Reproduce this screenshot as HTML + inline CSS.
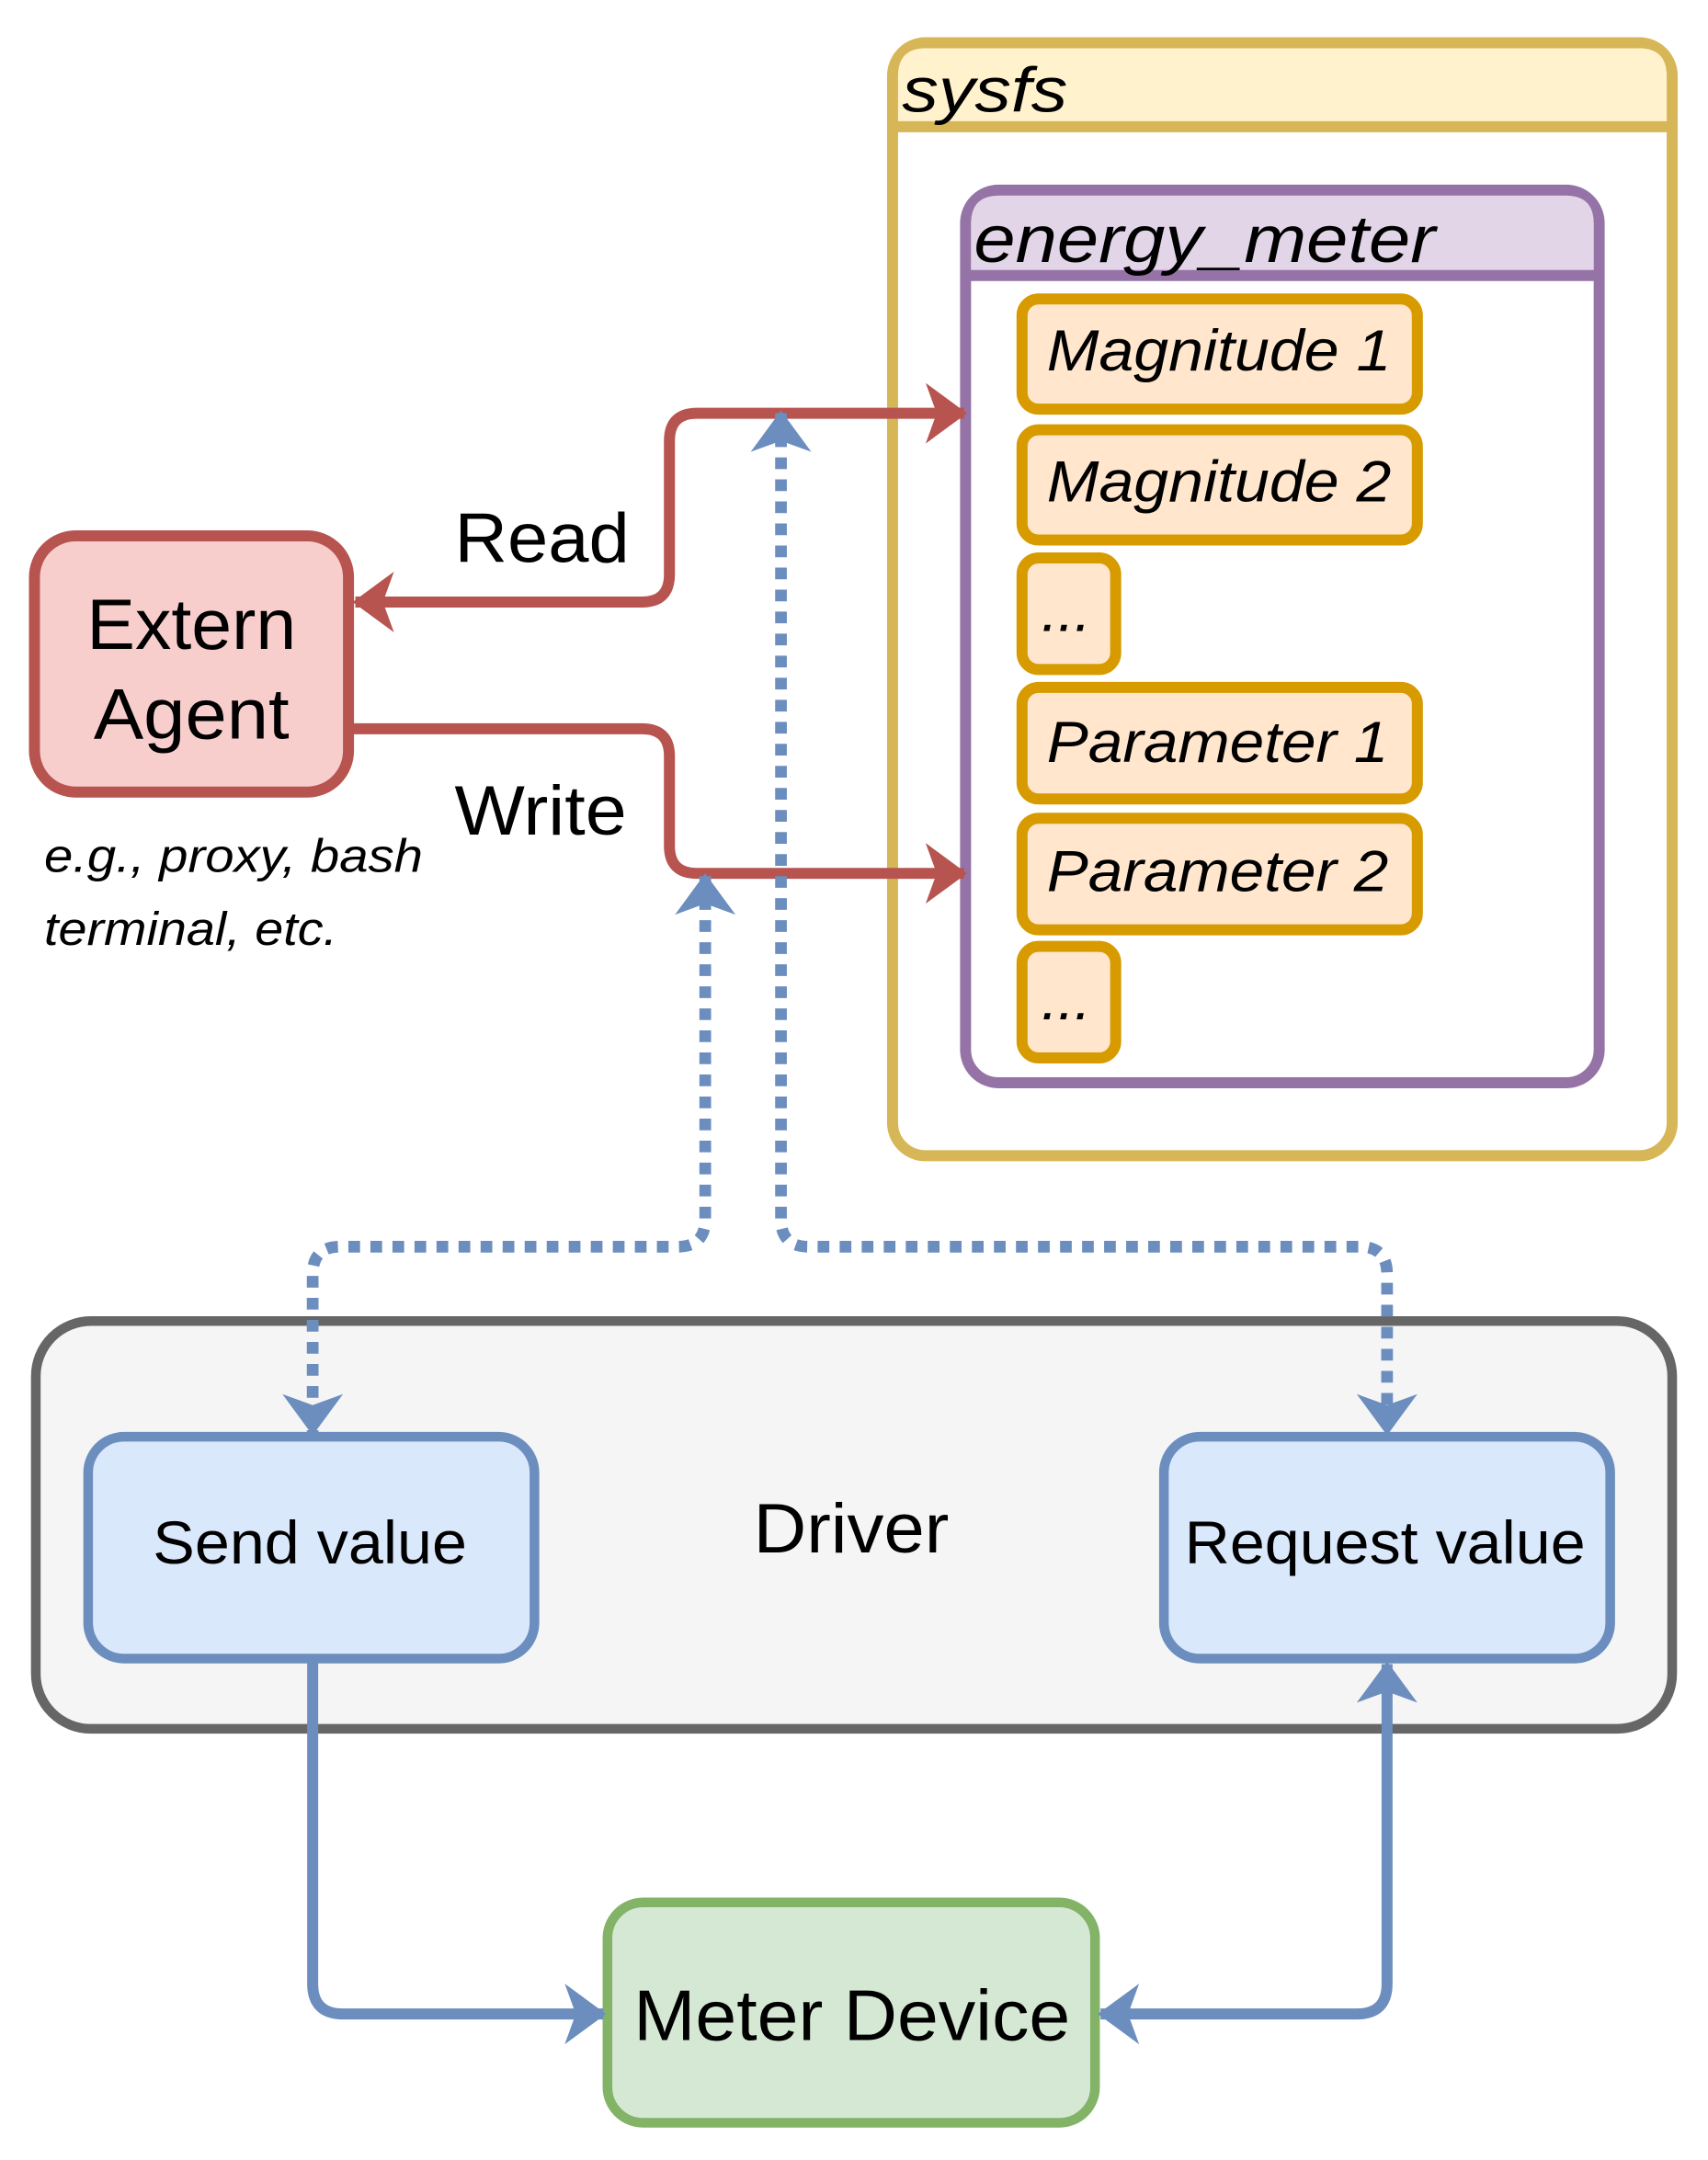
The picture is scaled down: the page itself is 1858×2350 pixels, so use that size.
<!DOCTYPE html>
<html><head><meta charset="utf-8"><style>html,body{margin:0;padding:0;background:#fff}svg{display:block}text{font-family:"Liberation Sans",Arial,Helvetica,sans-serif}</style></head>
<body>
<svg width="1858" height="2350" viewBox="0 0 1240 1568" preserveAspectRatio="none" xmlns="http://www.w3.org/2000/svg">
<defs>
<marker id="ar" viewBox="0 0 30 44" refX="28" refY="22" markerWidth="30" markerHeight="44" markerUnits="userSpaceOnUse" orient="auto-start-reverse"><path d="M0,0 L30,22 L0,44 L8,22 Z" fill="#b85450"/></marker>
<marker id="ab" viewBox="0 0 30 44" refX="28" refY="22" markerWidth="30" markerHeight="44" markerUnits="userSpaceOnUse" orient="auto-start-reverse"><path d="M0,0 L30,22 L0,44 L8,22 Z" fill="#6c8ebf"/></marker>
</defs>
<!-- sysfs -->
<rect x="648" y="31" width="566" height="808" rx="24" fill="#fff" stroke="#d6b656" stroke-width="8"/>
<path d="M652,92 V55 Q652,35 672,35 H1190 Q1210,35 1210,55 V92 Z" fill="#fff2cc"/>
<line x1="648" y1="92" x2="1214" y2="92" stroke="#d6b656" stroke-width="8"/>
<text x="655" y="81" font-size="46" font-style="italic" textLength="120" lengthAdjust="spacingAndGlyphs">sysfs</text>
<!-- energy_meter -->
<rect x="701" y="138" width="460" height="648" rx="24" fill="#fff" stroke="#9673a6" stroke-width="8"/>
<path d="M705,200 V162 Q705,142 725,142 H1137 Q1157,142 1157,162 V200 Z" fill="#e1d5e7"/>
<line x1="701" y1="200" x2="1161" y2="200" stroke="#9673a6" stroke-width="8"/>
<text x="707" y="190" font-size="48" font-style="italic" textLength="335" lengthAdjust="spacingAndGlyphs">energy_meter</text>
<g fill="#ffe6cc" stroke="#d79b00" stroke-width="8">
<rect x="742" y="217" width="287" height="80" rx="12"/>
<rect x="742" y="312" width="287" height="80" rx="12"/>
<rect x="742" y="405" width="68" height="81" rx="12"/>
<rect x="742" y="499" width="287" height="81" rx="12"/>
<rect x="742" y="594" width="287" height="81" rx="12"/>
<rect x="742" y="687" width="68" height="81" rx="12"/>
</g>
<g font-size="42" font-style="italic">
<text x="760" y="269" textLength="250" lengthAdjust="spacingAndGlyphs">Magnitude 1</text>
<text x="760" y="364" textLength="250" lengthAdjust="spacingAndGlyphs">Magnitude 2</text>
<text x="756" y="458" textLength="36" lengthAdjust="spacingAndGlyphs">...</text>
<text x="760" y="553" textLength="248" lengthAdjust="spacingAndGlyphs">Parameter 1</text>
<text x="760" y="647" textLength="248" lengthAdjust="spacingAndGlyphs">Parameter 2</text>
<text x="756" y="740" textLength="36" lengthAdjust="spacingAndGlyphs">...</text>
</g>
<!-- Extern Agent -->
<rect x="25" y="389" width="228" height="186" rx="30" fill="#f8cecc" stroke="#b85450" stroke-width="8"/>
<text x="63" y="471" font-size="52" textLength="152" lengthAdjust="spacingAndGlyphs">Extern</text>
<text x="68" y="536" font-size="52" textLength="142" lengthAdjust="spacingAndGlyphs">Agent</text>
<text x="32" y="633" font-size="34" font-style="italic" textLength="275" lengthAdjust="spacingAndGlyphs">e.g., proxy, bash</text>
<text x="32" y="686" font-size="34" font-style="italic" textLength="213" lengthAdjust="spacingAndGlyphs">terminal, etc.</text>
<!-- Driver -->
<rect x="26" y="959" width="1188" height="296" rx="40" fill="#f5f5f5" stroke="#666" stroke-width="7"/>
<text x="547" y="1127" font-size="51" textLength="142" lengthAdjust="spacingAndGlyphs">Driver</text>
<rect x="64" y="1043" width="324" height="161" rx="26" fill="#dae8fc" stroke="#6c8ebf" stroke-width="7"/>
<rect x="845" y="1043" width="324" height="161" rx="26" fill="#dae8fc" stroke="#6c8ebf" stroke-width="7"/>
<text x="111" y="1135" font-size="44" textLength="228" lengthAdjust="spacingAndGlyphs">Send value</text>
<text x="860" y="1135" font-size="44" textLength="291" lengthAdjust="spacingAndGlyphs">Request value</text>
<!-- Meter Device -->
<rect x="441" y="1381" width="354" height="160" rx="26" fill="#d5e8d4" stroke="#82b366" stroke-width="7"/>
<text x="460" y="1481" font-size="52" textLength="317" lengthAdjust="spacingAndGlyphs">Meter Device</text>
<!-- red arrows -->
<g fill="none" stroke="#b85450" stroke-width="8">
<path d="M700,300 H506 Q486,300 486,320 V417 Q486,437 466,437 H258" marker-start="url(#ar)" marker-end="url(#ar)"/>
<path d="M253,529 H466 Q486,529 486,549 V614 Q486,634 506,634 H700" marker-end="url(#ar)"/>
</g>
<text x="330" y="408" font-size="51" textLength="127" lengthAdjust="spacingAndGlyphs">Read</text>
<text x="330" y="606" font-size="51" textLength="125" lengthAdjust="spacingAndGlyphs">Write</text>
<!-- blue dotted -->
<g fill="none" stroke="#6c8ebf" stroke-width="8.5" stroke-dasharray="8.5 7.5">
<path d="M567,300 V885 Q567,905 587,905 H987 Q1007,905 1007,925 V1040" marker-start="url(#ab)" marker-end="url(#ab)"/>
<path d="M512,636 V885 Q512,905 492,905 H247 Q227,905 227,925 V1040" marker-start="url(#ab)" marker-end="url(#ab)"/>
</g>
<g fill="none" stroke="#6c8ebf" stroke-width="8">
<path d="M227,1206 V1440 Q227,1462 249,1462 H438" marker-end="url(#ab)"/>
<path d="M799,1462 H985 Q1007,1462 1007,1440 V1208" marker-start="url(#ab)" marker-end="url(#ab)"/>
</g>
</svg>
</body></html>
